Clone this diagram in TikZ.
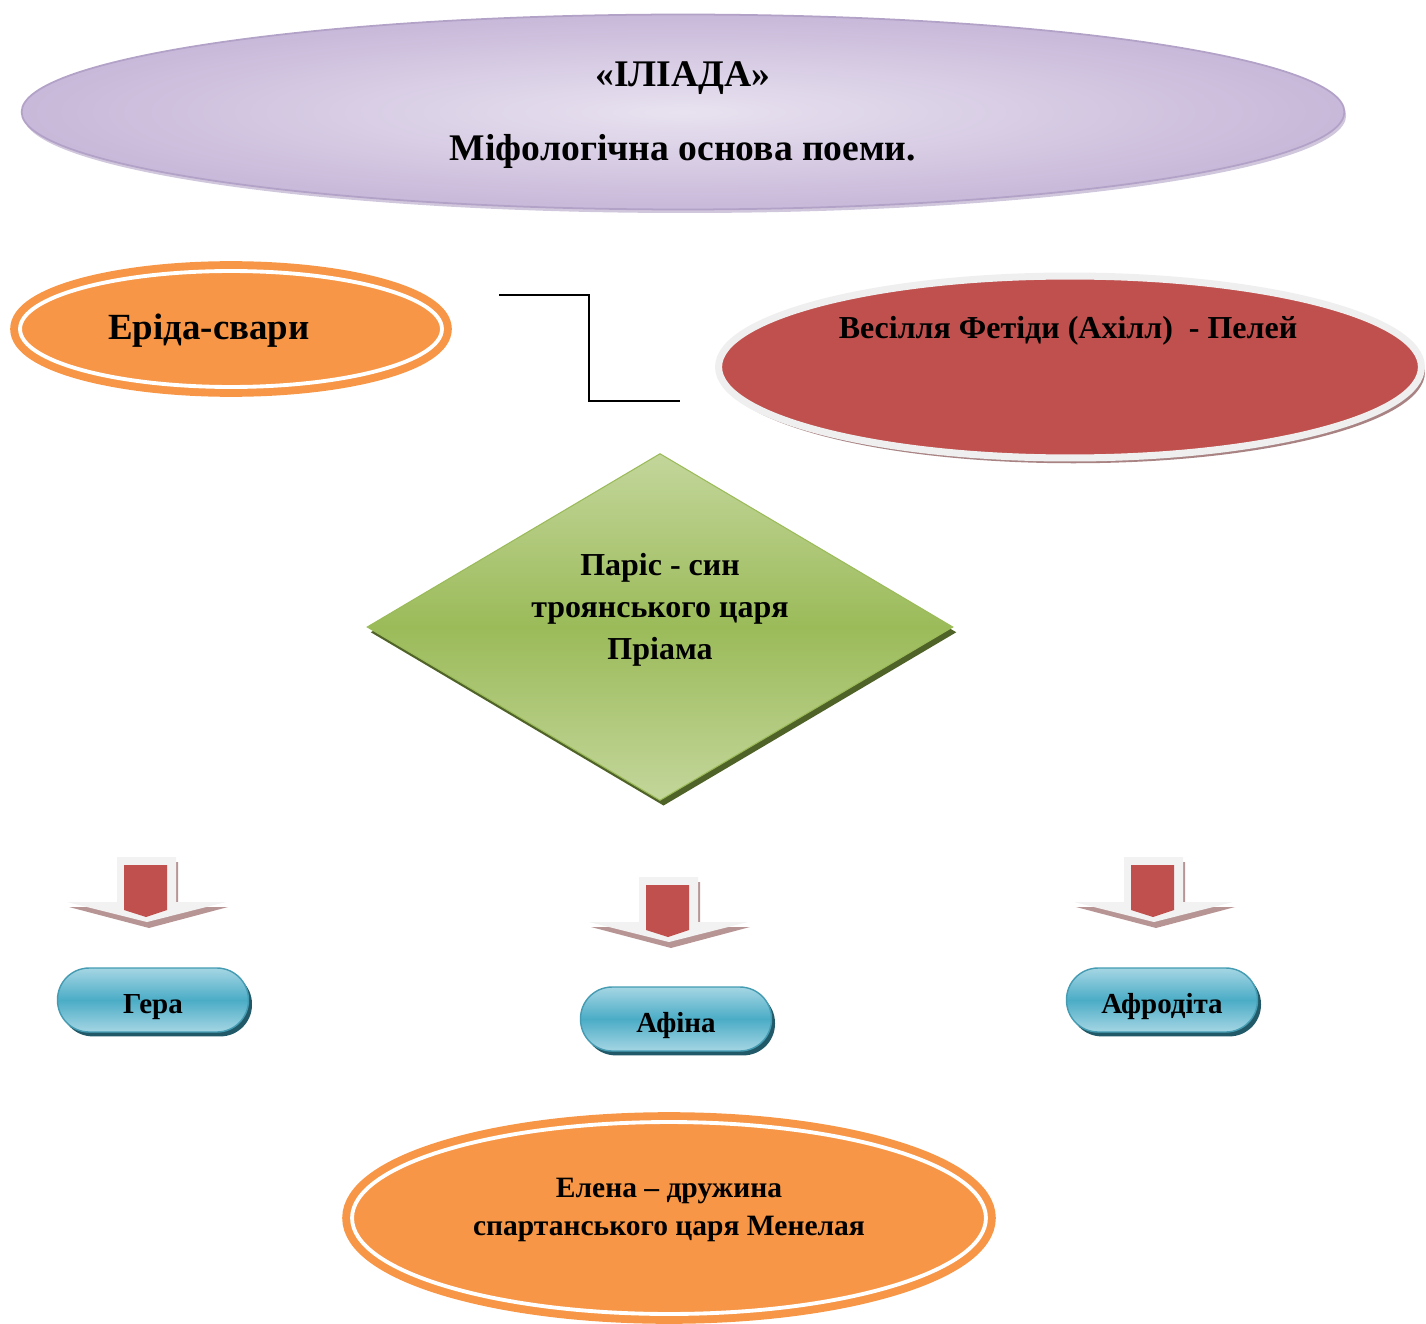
\documentclass[tikz,border=0pt]{standalone}
\usepackage{fontspec}
\setmainfont{Liberation Serif}
\usetikzlibrary{shapes.geometric,shadows}

\definecolor{lilac}{HTML}{E8E2F0}
\definecolor{lilacdark}{HTML}{C8B8D9}
\definecolor{lilacedge}{HTML}{B3A2C7}
\definecolor{eriorange}{HTML}{F79646}
\definecolor{wedred}{HTML}{C0504D}
\definecolor{wedrim}{HTML}{EFEFEF}
\definecolor{wedshadow}{HTML}{A98383}
\definecolor{parislight}{HTML}{C3D69B}
\definecolor{parismid}{HTML}{9BBB59}
\definecolor{parisdark}{HTML}{4F6228}
\definecolor{godlight}{HTML}{A5D6E4}
\definecolor{godmid}{HTML}{4BACC6}
\definecolor{goddark}{HTML}{215968}
\definecolor{arrowwhite}{HTML}{F2F2F2}
\definecolor{arrowshade}{HTML}{B89595}

\tikzset{
	titleoval/.style={ellipse, draw=lilacedge, line width=1pt, inner color=lilac, outer color=lilacdark,
		drop shadow={fill=lilacedge!60, shadow xshift=1pt, shadow yshift=-2pt, opacity=1},
		minimum width=26.46cm, minimum height=3.9cm, align=center,
		font=\fontsize{21.4}{25}\selectfont\bfseries},
	erisoval/.style={ellipse, fill=eriorange, draw=eriorange, line width=4.5pt, double=white, double distance=2.2pt,
		inner sep=0pt},
	wedoval/.style={ellipse, fill=wedred, draw=wedrim, line width=4pt,
		drop shadow={fill=wedshadow, shadow xshift=2pt, shadow yshift=-3pt, opacity=1},
		minimum width=14.06cm, minimum height=3.64cm},
	parisbox/.style={diamond, top color=parislight, bottom color=parislight, middle color=parismid,
		draw=parismid, line width=0.6pt, inner sep=0pt,
		drop shadow={fill=parisdark, shadow xshift=2pt, shadow yshift=-3pt, opacity=1},
		minimum width=11.72cm, minimum height=6.94cm},
	godbutton/.style={rectangle, rounded corners=18pt, top color=godlight, bottom color=godlight, middle color=godmid,
		draw=godmid!90!black, line width=0.8pt,
		drop shadow={fill=goddark, shadow xshift=2pt, shadow yshift=-2.5pt, opacity=1},
		minimum width=3.82cm, minimum height=1.28cm, text height=16pt, text depth=0.5pt,
		font=\fontsize{16.5}{19}\selectfont\bfseries},
	bigtext/.style={font=\fontsize{21}{26}\selectfont\bfseries},
	midtext/.style={font=\fontsize{18.2}{22}\selectfont\bfseries, align=center},
	pics/downarrow/.style={code={
		\fill[arrowshade] (-78,-15) -- (-28,-15) -- (-28,-60) -- (31,-60) -- (31,-15) -- (81,-15) -- (2,6) -- cycle;
		\fill[arrowwhite] (-80,-20) -- (-30,-20) -- (-30,-65) -- (29,-65) -- (29,-20) -- (79,-20) -- (0,0) -- cycle;
		\fill[wedred] (-23,-57) -- (20,-57) -- (20,-12) -- (-1,-5) -- (-23,-12) -- cycle;
	}}
}

\begin{document}
\begin{tikzpicture}[x=0.02cm, y=-0.02cm]
	%\draw[help lines] (0,0) grid[step=100] (1426,1324);
	\useasboundingbox (0,0) rectangle (1426,1324);

	\node[titleoval] (iliad) at (683,112) {};
	\node[align=center, font=\fontsize{21.4}{25}\selectfont\bfseries] (iliadtext) at (683,115)
		{«ІЛІАДА»\\[17pt] Міфологічна основа поеми.};

	\node[erisoval, minimum width=8.44cm, minimum height=2.32cm] (eris) at (231,329) {};
	\node[bigtext] (eristext) at (209,331) {Еріда-свари};

	\node[wedoval] (wedding) at (1070,367) {};
	\node[midtext] (weddingtext) at (1068,331) {Весілля Фетіди (Ахілл)\ \ - Пелей};

	\coordinate (linkstart) at (499,295);
	\coordinate (linkend) at (680,401);
	\draw[line width=1.1pt] (linkstart) -- ++(90,0) |- (linkend);

	\node[parisbox] (paris) at (660,627) {};
	\node[midtext, font=\fontsize{18.2}{24}\selectfont\bfseries] (paristext) at (660,610)
		{Паріс - син\\ троянського царя\\ Пріама};

	\pic at (147,922) {downarrow};
	\pic at (669,942) {downarrow};
	\pic at (1154,922) {downarrow};

	\node[godbutton] (hera) at (153,1000) {Гера};
	\node[godbutton] (athena) at (676,1019) {Афіна};
	\node[godbutton] (aphrodite) at (1162,1000) {Афродіта};

	\node[erisoval, minimum width=12.68cm, minimum height=3.84cm] (helen) at (669,1218) {};
	\node[midtext, font=\fontsize{16.8}{22}\selectfont\bfseries] (helentext) at (669,1210)
		{Елена -- дружина\\ спартанського царя Менелая};
\end{tikzpicture}
\end{document}
